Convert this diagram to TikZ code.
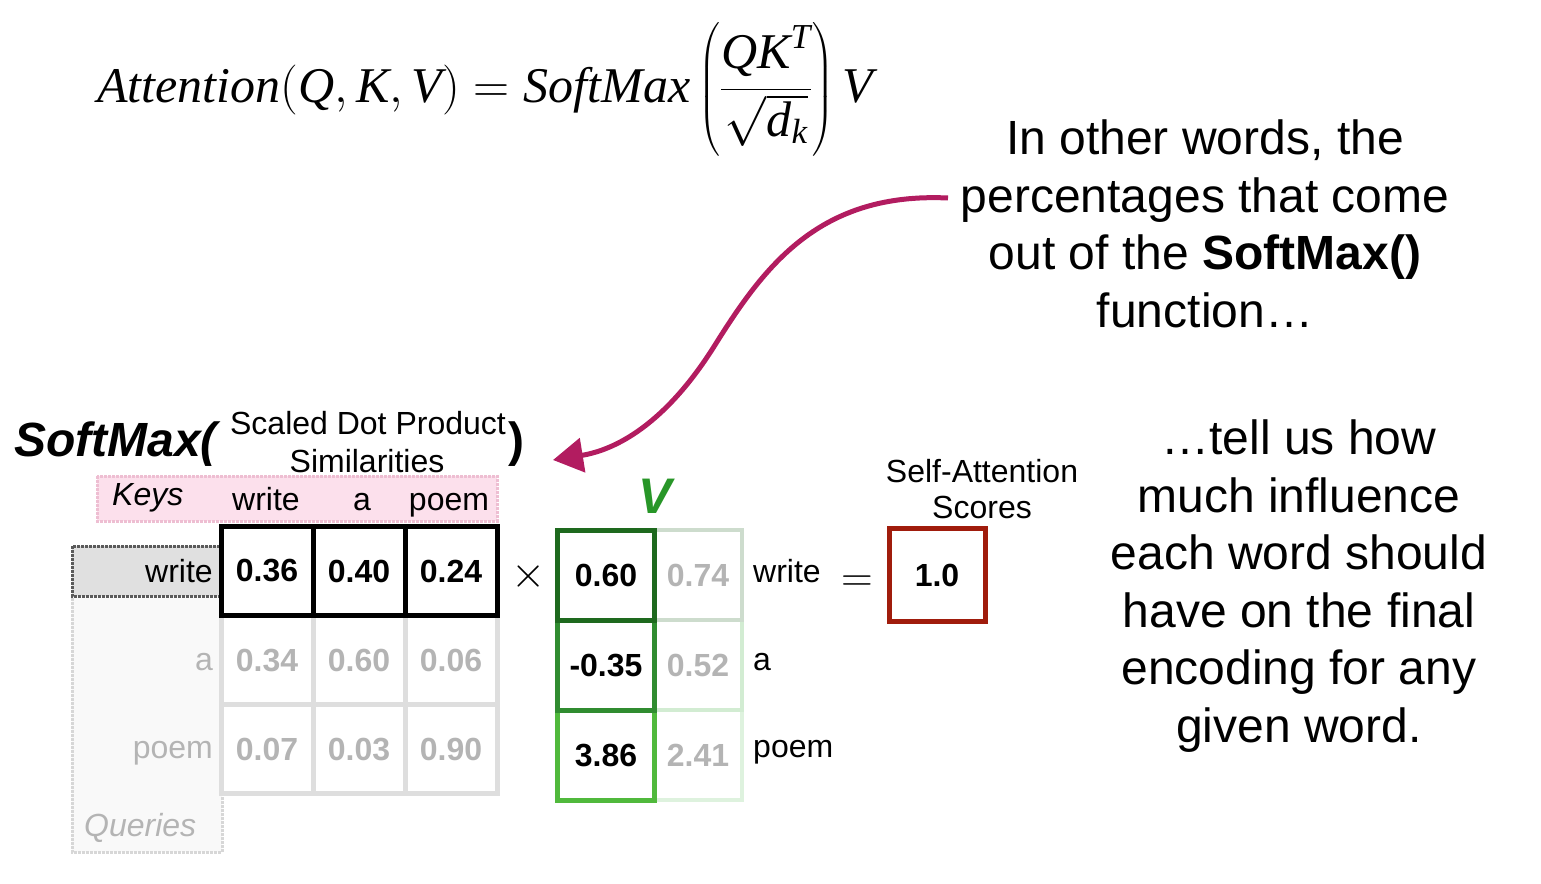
\documentclass[tikz,border=0pt]{standalone}
\usepackage{fix-cm}
\usepackage{amsmath}
\usepackage{fontspec}
\setmainfont{Liberation Sans}
\newfontfamily\tnr{Liberation Serif}
\usetikzlibrary{arrows.meta}
\definecolor{arrowc}{RGB}{178,28,96}
\definecolor{txtgray}{RGB}{180,180,180}
\definecolor{cellgray}{RGB}{222,222,222}
\definecolor{vdark}{RGB}{30,105,30}
\definecolor{vmid}{RGB}{48,140,48}
\definecolor{vlight}{RGB}{80,185,60}
\definecolor{vgreen}{RGB}{40,150,40}
\definecolor{vpale1}{RGB}{205,220,205}
\definecolor{vpale2}{RGB}{210,236,210}
\definecolor{vpale3}{RGB}{222,242,222}
\definecolor{redbox}{RGB}{160,28,12}
\definecolor{pinkfill}{RGB}{252,224,236}
\definecolor{pinkline}{RGB}{238,190,210}
\definecolor{qfill}{RGB}{249,249,249}
\definecolor{qline}{RGB}{215,215,215}
\definecolor{hlfill}{RGB}{224,224,224}
\definecolor{hlline}{RGB}{90,90,90}
\tikzset{
  lbl/.style={font=\fontsize{32}{38}\selectfont, inner sep=0pt},
  num/.style={font=\fontsize{32}{38}\selectfont\bfseries},
  hand/.style={font=\itshape\fontsize{32}{38}\selectfont, inner sep=0pt},
  big/.style={font=\fontsize{48}{57.5}\selectfont, align=center, inner sep=0pt},
  cellbase/.style={num, minimum width=92pt, minimum height=89pt, inner sep=0pt, line width=5pt},
  topcell/.style={cellbase, draw=black, text=black},
  lowcell/.style={cellbase, draw=cellgray, text=txtgray},
  vcell/.style={num, minimum width=97pt, minimum height=90pt, inner sep=0pt, line width=5pt},
  vcellb/.style={num, minimum width=87pt, minimum height=90pt, inner sep=0pt, line width=4pt, text=txtgray},
}
\begin{document}
\begin{tikzpicture}[x=1pt,y=-1pt]
\useasboundingbox (0,0) rectangle (1541,883);

% formula
\node[anchor=base west, inner sep=0pt, font=\tnr\fontsize{50}{60}\selectfont] (formula) at (97,102)
 {$\text{\itshape Attention}(\text{\itshape Q},\text{\itshape K},\text{\itshape V}) = \text{\itshape SoftMax}\left(\dfrac{\text{\itshape QK}^{\text{\itshape T}}}{\sqrt{\text{\itshape d}_{\text{\itshape k}}}}\right)\text{\itshape V}$};

% right texts
\node[big, anchor=north] (txt1) at (1205,120) {In other words, the\\percentages that come\\out of the \textbf{SoftMax()}\\function\dots};
\node[big, anchor=north] (txt2) at (1299,420) {\dots tell us how\\much influence\\each word should\\have on the final\\encoding for any\\given word.};

% SoftMax header
\node[anchor=base west, inner sep=0pt, font=\bfseries\itshape\fontsize{48}{56}\selectfont] (sm) at (14,456) {SoftMax(};
\node[anchor=base west, inner sep=0pt, font=\bfseries\fontsize{48}{56}\selectfont] (smclose) at (508,456) {)};
\node[lbl, anchor=base] (sdp1) at (368,434) {Scaled Dot Product};
\node[lbl, anchor=base] (sdp2) at (367,472) {Similarities};

% keys band
\draw[fill=pinkfill, draw=pinkline, densely dotted, line width=3pt] (97,476) rectangle (497,521);
\node[hand, anchor=base west] (keys) at (112,505) {Keys};
\node[lbl, anchor=base] (kw) at (266,510) {write};
\node[lbl, anchor=base] (ka) at (362,510) {a};
\node[lbl, anchor=base] (kp) at (449,510) {poem};

% queries column
\draw[fill=qfill, draw=qline, densely dotted, line width=3pt] (72,546) rectangle (222,852);
\draw[fill=hlfill, draw=hlline, densely dotted, line width=3pt] (72,546) rectangle (222,596);
\node[lbl, anchor=base east] (qw) at (213,582) {write};
\node[lbl, anchor=base east, text=txtgray] (qa) at (213,670) {a};
\node[lbl, anchor=base east, text=txtgray] (qp) at (213,758) {poem};
\node[hand, anchor=base west, text=txtgray] (queries) at (84,836) {Queries};

% score matrix
\node[lowcell] (s31) at (267,749) {0.07};
\node[lowcell] (s32) at (359,749) {0.03};
\node[lowcell] (s33) at (451,749) {0.90};
\node[lowcell] (s21) at (267,660) {0.34};
\node[lowcell] (s22) at (359,660) {0.60};
\node[lowcell] (s23) at (451,660) {0.06};
\node[topcell] (s11) at (267,571) {0.36};
\node[topcell] (s12) at (359,571) {0.40};
\node[topcell] (s13) at (451,571) {0.24};

\node[inner sep=0pt, font=\fontsize{44}{50}\selectfont] (times) at (529,576) {$\times$};

% V matrix
\node[anchor=base, inner sep=0pt, text=vgreen, font=\bfseries\itshape\fontsize{50}{56}\selectfont] (vlabel) at (655,513) {V};
\node[vcellb, draw=vpale3] (v32) at (698,755) {2.41};
\node[vcellb, draw=vpale2] (v22) at (698,665) {0.52};
\node[vcellb, draw=vpale1] (v12) at (698,575) {0.74};
\node[vcell, draw=vlight] (v31) at (606,755) {3.86};
\node[vcell, draw=vmid] (v21) at (606,665) {-0.35};
\node[vcell, draw=vdark] (v11) at (606,575) {0.60};
\node[lbl, anchor=base west] (vw) at (753,582) {write};
\node[lbl, anchor=base west] (va) at (753,670) {a};
\node[lbl, anchor=base west] (vp) at (753,757) {poem};

\node[inner sep=0pt, font=\fontsize{44}{50}\selectfont] (eq) at (857,584) {$=$};

% result
\node[lbl, anchor=base] (sa1) at (982,482) {Self-Attention};
\node[lbl, anchor=base] (sa2) at (982,518) {Scores};
\node[num, draw=redbox, line width=5pt, minimum width=96pt, minimum height=93pt, inner sep=0pt] (res) at (937,575) {1.0};

% arrow
\coordinate (astart) at (948,198);
\coordinate (aend) at (553,460);
\draw[arrowc, line width=5pt, -{Triangle[length=30pt,width=34pt]}]
  (astart) .. controls (820,192) and (765,265) .. (715,345)
  .. controls (665,425) and (615,450) .. (aend);
\end{tikzpicture}
\end{document}
